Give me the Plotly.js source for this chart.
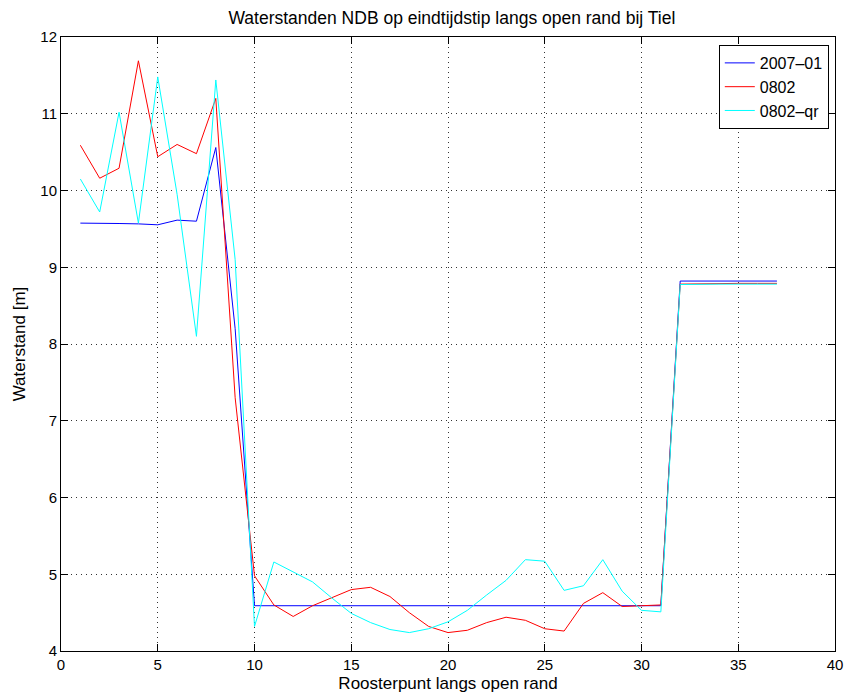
<!DOCTYPE html>
<html>
<head>
<meta charset="utf-8">
<script src="https://cdn.plot.ly/plotly-3.0.1.min.js"></script>
<style>body{margin:0;padding:0;background:#fff;}#chart{width:851px;height:698px;}</style>
</head>
<body>
<div id="chart"></div>
<script>
const roosterpunt = [1,2,3,4,5,6,7,8,9,10,11,12,13,14,15,16,17,18,19,20,21,22,23,24,25,26,27,28,29,30,31,32,33,34,35,36,37];
const serie2007_01 = [9.575,9.575,9.57,9.565,9.553,9.614,9.60,10.56,8.2,4.59,4.59,4.59,4.59,4.59,4.59,4.59,4.59,4.59,4.59,4.59,4.59,4.59,4.59,4.59,4.588,4.588,4.588,4.588,4.588,4.59,4.59,8.82,8.82,8.82,8.82,8.82,8.82];
const serie0802 = [10.59,10.16,10.29,11.69,10.44,10.60,10.48,11.20,7.3,4.98,4.60,4.45,4.59,4.69,4.80,4.83,4.71,4.50,4.32,4.24,4.27,4.37,4.44,4.40,4.29,4.26,4.62,4.76,4.58,4.59,4.60,8.78,8.785,8.79,8.79,8.79,8.79];
const serie0802qr = [10.15,9.72,11.02,9.575,11.48,9.95,8.10,11.44,9.1,4.32,5.16,5.03,4.90,4.69,4.49,4.37,4.28,4.24,4.29,4.38,4.53,4.73,4.92,5.19,5.17,4.79,4.85,5.19,4.78,4.53,4.51,8.775,8.78,8.78,8.78,8.78,8.78];
const seriesNames = ['2007\u201301','0802','0802\u2013qr'];
const xTicks = [0,5,10,15,20,25,30,35,40];
const yTicks = [4,5,6,7,8,9,10,11,12];

const font = 'Liberation Sans, Arial, Helvetica, sans-serif';
const traces = [
  {x: roosterpunt, y: serie2007_01, name: seriesNames[0], mode: 'lines', line: {color: '#0000ff', width: 1}},
  {x: roosterpunt, y: serie0802, name: seriesNames[1], mode: 'lines', line: {color: '#ff0000', width: 1}},
  {x: roosterpunt, y: serie0802qr, name: seriesNames[2], mode: 'lines', line: {color: '#00ffff', width: 1}}
];
const axisCommon = {
  showline: true, linecolor: '#000', linewidth: 1, mirror: 'ticks',
  ticks: 'inside', ticklen: 7, tickcolor: '#000', tickwidth: 1,
  showgrid: true, gridcolor: 'rgba(0,0,0,0.8)', gridwidth: 1, griddash: '1px,4px',
  zeroline: false, tickfont: {family: font, size: 15, color: '#000'}
};
const layout = {
  width: 851, height: 698,
  margin: {l: 61, r: 16, t: 37, b: 47},
  paper_bgcolor: '#fff', plot_bgcolor: '#fff',
  font: {family: font, color: '#000'},
  title: {text: 'Waterstanden NDB op eindtijdstip langs open rand bij Tiel', font: {family: font, size: 17.5, color: '#000'}, x: 0.531, xanchor: 'center', y: 0.975, yanchor: 'middle'},
  xaxis: Object.assign({}, axisCommon, {range: [0, 40], tickvals: xTicks, ticktext: xTicks.map(String),
    title: {text: 'Roosterpunt langs open rand', font: {family: font, size: 17, color: '#000'}, standoff: 5}}),
  yaxis: Object.assign({}, axisCommon, {range: [4, 12], tickvals: yTicks, ticktext: yTicks.map(String),
    title: {text: 'Waterstand [m]', font: {family: font, size: 17, color: '#000'}, standoff: 10}}),
  showlegend: true,
  legend: {x: 0.992, y: 0.987, xanchor: 'right', yanchor: 'top', bgcolor: '#fff', bordercolor: '#000', borderwidth: 1,
    font: {family: font, size: 16, color: '#000'}, itemwidth: 30, tracegroupgap: 0}
};
Plotly.newPlot('chart', traces, layout, {displayModeBar: false, staticPlot: true});
</script>
</body>
</html>
